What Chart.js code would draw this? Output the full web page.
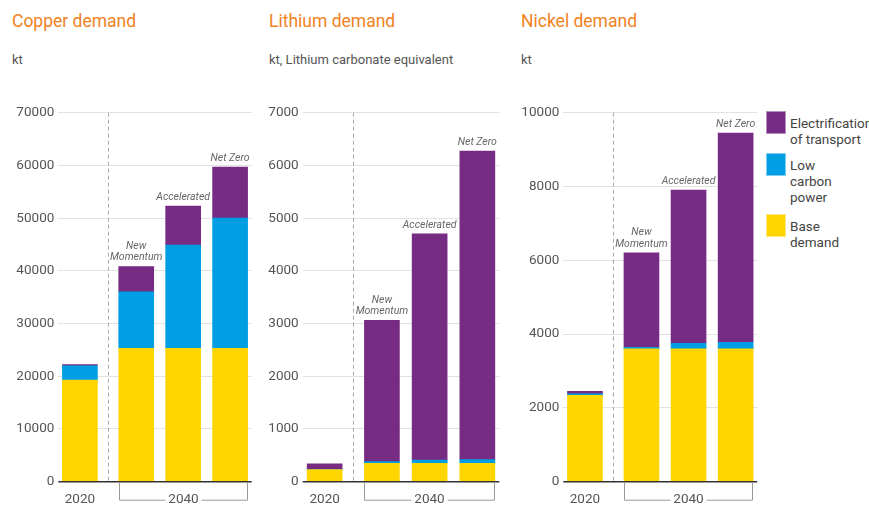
<!DOCTYPE html>
<html>
<head>
<meta charset="utf-8">
<script src="https://cdn.jsdelivr.net/npm/chart.js@4"></script>
<style>
  body { margin: 0; background: #fff; font-family: Roboto, 'DejaVu Sans Condensed', sans-serif; }
  #page { position: relative; width: 869px; height: 507px; overflow: hidden; }
  .title { position: absolute; top: 11px; font-size: 17.5px; color: #f0821e; white-space: nowrap; }
  .unit { position: absolute; top: 52px; font-size: 13px; color: #555; white-space: nowrap; }
  canvas { position: absolute; top: 90px; }
  .legend { position: absolute; left: 766px; font-size: 13.5px; line-height: 16px; color: #444; }
  .legend .sw { position: absolute; left: 0; top: 0; width: 20px; height: 23px; box-sizing: border-box; }
  .legend .tx { position: absolute; left: 24px; top: 4px; white-space: nowrap; }
</style>
</head>
<body>
<div id="page">
  <div class="title" style="left:12px">Copper demand</div>
  <div class="unit" style="left:12px">kt</div>
  <div class="title" style="left:269px">Lithium demand</div>
  <div class="unit" style="left:269px">kt, Lithium carbonate equivalent</div>
  <div class="title" style="left:521px">Nickel demand</div>
  <div class="unit" style="left:521px">kt</div>

  <canvas id="copper" width="260" height="417" style="left:0px"></canvas>
  <canvas id="lithium" width="250" height="417" style="left:260px"></canvas>
  <canvas id="nickel" width="250" height="417" style="left:510px"></canvas>

  <div id="legendBox"></div>
</div>

<script>
// scenarios (first one is the 2020 actuals)
const scenarios = ['2020', 'New Momentum', 'Accelerated', 'Net Zero']
const scenarioLines = [[], ['New', 'Momentum'], ['Accelerated'], ['Net Zero']]
const years = ['2020', '2040']
const seriesNames = ['Base demand', 'Low carbon power', 'Electrification of transport']
const legendLines = [['Electrification', 'of transport'], ['Low', 'carbon', 'power'], ['Base', 'demand']]

// Copper, kt
const copperBase = [19300, 25300, 25300, 25300]
const copperLowCarbon = [2700, 10700, 19600, 24700]
const copperTransport = [200, 4800, 7400, 9700]
const copperTicks = [0, 10000, 20000, 30000, 40000, 50000, 60000, 70000]

// Lithium, kt LCE
const lithiumBase = [230, 350, 350, 350]
const lithiumLowCarbon = [5, 30, 60, 70]
const lithiumTransport = [105, 2680, 4290, 5850]
const lithiumTicks = [0, 1000, 2000, 3000, 4000, 5000, 6000, 7000]

// Nickel, kt
const nickelBase = [2340, 3600, 3600, 3600]
const nickelLowCarbon = [40, 40, 150, 180]
const nickelTransport = [70, 2560, 4150, 5670]
const nickelTicks = [0, 2000, 4000, 6000, 8000, 10000]

const colBase = '#ffd500'
const colLow = '#009fe3'
const colTrans = '#772c84'

/* ---------------- layout ---------------- */
const GAP = 0.2
const slots = scenarios.map((s, i) => i === 0 ? 0 : i + GAP)
const FONT = "Roboto, 'DejaVu Sans Condensed', sans-serif"

Chart.defaults.font.family = FONT
Chart.defaults.color = '#555'

const decor = {
    id: 'decor',
    afterDraw(chart) {
        const c = chart.ctx
        const xs = chart.scales.x
        const ys = chart.scales.y
        const area = chart.chartArea
        const y0 = ys.getPixelForValue(0)
        const bars = chart.getDatasetMeta(0).data
        const tops = chart.getDatasetMeta(2).data

        c.save()
        // dashed separator 2020 | 2040
        const xd = Math.round(xs.getPixelForValue((slots[0] + slots[1]) / 2)) + 0.5
        c.strokeStyle = '#aaa'
        c.lineWidth = 1
        c.setLineDash([4, 3])
        c.beginPath()
        c.moveTo(xd, area.top)
        c.lineTo(xd, y0)
        c.stroke()
        c.setLineDash([])

        // baseline
        c.strokeStyle = '#333'
        c.lineWidth = 1.5
        c.beginPath()
        c.moveTo(area.left, y0)
        c.lineTo(area.right, y0)
        c.stroke()

        // year labels and bracket
        c.font = '13.5px ' + FONT
        c.fillStyle = '#555'
        c.textAlign = 'center'
        c.textBaseline = 'middle'
        const ly = y0 + 18
        c.fillText(years[0], bars[0].x, ly)

        const bl = Math.round(bars[1].x - bars[1].width / 2) + 0.5
        const br = Math.round(bars[3].x + bars[3].width / 2) - 0.5
        const mid = (bl + br) / 2
        const tw = c.measureText(years[1]).width / 2 + 3
        c.fillText(years[1], mid, ly)
        c.strokeStyle = '#999'
        c.lineWidth = 1
        c.beginPath()
        c.moveTo(bl, y0 + 1)
        c.lineTo(bl, ly + 0.5)
        c.lineTo(mid - tw, ly + 0.5)
        c.moveTo(mid + tw, ly + 0.5)
        c.lineTo(br, ly + 0.5)
        c.lineTo(br, y0 + 1)
        c.stroke()

        // scenario names over the bars
        c.font = 'italic 10.5px ' + FONT
        c.fillStyle = '#666'
        for (let i = 1; i < scenarios.length; i++) {
            const lines = scenarioLines[i]
            const top = tops[i].y
            for (let j = 0; j < lines.length; j++) {
                const yy = top - 9 - (lines.length - 1 - j) * 11.5
                c.fillText(lines[j], tops[i].x, yy)
            }
        }
        c.restore()
    }
}

function makeChart(id, base, low, trans, ticks, axisW, padR) {
    const ctx = document.getElementById(id).getContext('2d')
    return new Chart(ctx, {
        type: 'bar',
        data: {
            labels: slots,
            datasets: [
                { label: seriesNames[0], data: base, backgroundColor: colBase, barThickness: 35 },
                { label: seriesNames[1], data: low, backgroundColor: colLow, barThickness: 35 },
                { label: seriesNames[2], data: trans, backgroundColor: colTrans, barThickness: 35 }
            ]
        },
        options: {
            responsive: false,
            animation: false,
            layout: { padding: { left: 0, right: padR, top: 22.7, bottom: 25.3 } },
            plugins: { legend: { display: false }, tooltip: { enabled: false } },
            scales: {
                x: {
                    type: 'linear',
                    stacked: true,
                    display: false,
                    offset: false,
                    min: -0.46,
                    max: 3.66
                },
                y: {
                    stacked: true,
                    min: 0,
                    max: ticks[ticks.length - 1],
                    border: { display: false },
                    grid: {
                        drawTicks: false,
                        color: c => c.tick && c.tick.value === 0 ? 'rgba(0,0,0,0)' : '#e2e2e2',
                        lineWidth: 1
                    },
                    ticks: { padding: 4, font: { size: 13.5 }, color: '#555', callback: v => String(v) },
                    afterBuildTicks: s => { s.ticks = ticks.map(v => ({ value: v })) },
                    afterFit: s => { s.width = axisW }
                }
            }
        },
        plugins: [decor]
    })
}

makeChart('copper', copperBase, copperLowCarbon, copperTransport, copperTicks, 58.3, 8.3)
makeChart('lithium', lithiumBase, lithiumLowCarbon, lithiumTransport, lithiumTicks, 42.7, 10.7)
makeChart('nickel', nickelBase, nickelLowCarbon, nickelTransport, nickelTicks, 53.3, 2.7)

// legend
const legendBox = document.getElementById('legendBox')
const legendCols = [colTrans, colLow, colBase]
const legendBorders = ['#b68fc0', '#7fcdf0', '#ffe680']
const legendTops = [111, 153, 214]
for (let i = 0; i < legendCols.length; i++) {
    const item = document.createElement('div')
    item.className = 'legend'
    item.style.top = legendTops[i] + 'px'
    const sw = document.createElement('div')
    sw.className = 'sw'
    sw.style.background = legendCols[i]
    sw.style.border = '1px solid ' + legendBorders[i]
    const tx = document.createElement('div')
    tx.className = 'tx'
    tx.innerHTML = legendLines[i].join('<br>')
    item.appendChild(sw)
    item.appendChild(tx)
    legendBox.appendChild(item)
}
</script>
</body>
</html>
